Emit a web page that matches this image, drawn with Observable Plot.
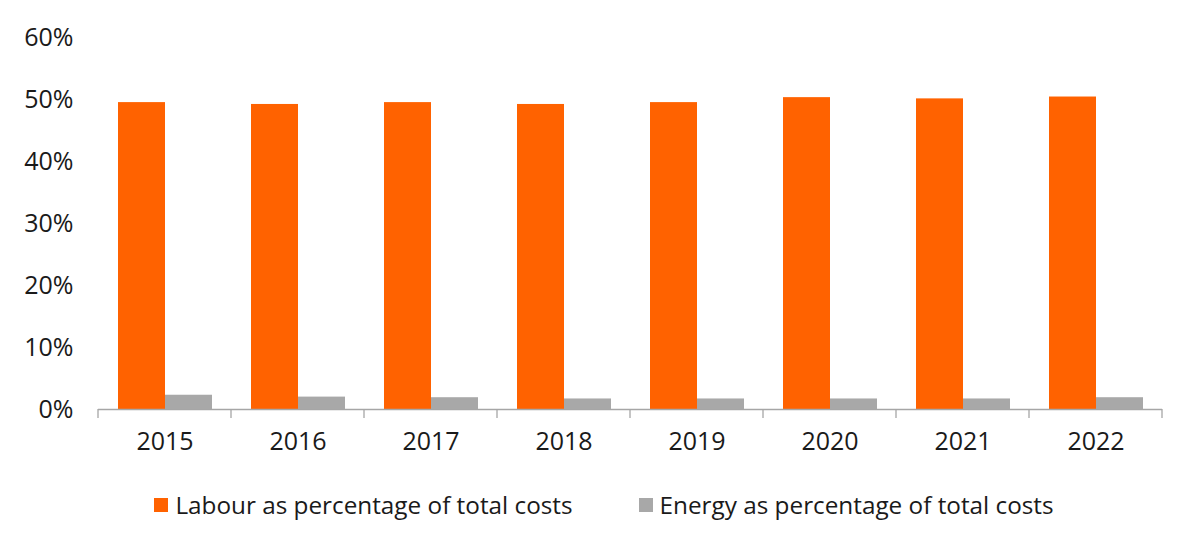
<!DOCTYPE html>
<html>
<head>
<meta charset="utf-8">
<script src="https://cdn.jsdelivr.net/npm/d3@7"></script>
<script src="https://cdn.jsdelivr.net/npm/@observablehq/plot@0.6"></script>
<style>
  body { margin: 0; background: #fff; font-family: "Open Sans", sans-serif; }
  #chart svg { display: block; }
  .legend { display: flex; justify-content: center; gap: 66px; margin-top: 20px; margin-left: 8px;
            font-family: "Open Sans", sans-serif; font-size: 24.3px; color: #1a1a1a; line-height: 30px; }
  .legend .item { display: flex; align-items: center; }
  .legend .sw { width: 14px; height: 14px; margin-right: 7px; }
</style>
</head>
<body>
<div id="chart"></div>
<script>
const years = ["2015", "2016", "2017", "2018", "2019", "2020", "2021", "2022"];
const labour = [49.5, 49.2, 49.5, 49.2, 49.5, 50.3, 50.1, 50.4];
const energy = [2.3, 2.0, 1.9, 1.7, 1.7, 1.7, 1.7, 1.9];
const seriesNames = ["Labour as percentage of total costs", "Energy as percentage of total costs"];
const seriesColors = ["#FF6200", "#A8A8A8"];
const yTicks = [0, 0.1, 0.2, 0.3, 0.4, 0.5, 0.6];

const rows = [];
years.forEach((y, i) => {
  rows.push({year: y, series: seriesNames[0], value: labour[i] / 100});
  rows.push({year: y, series: seriesNames[1], value: energy[i] / 100});
});

const plot = Plot.plot({
  width: 1200,
  height: 470,
  marginTop: 37,
  marginBottom: 61,
  marginLeft: 96,
  marginRight: 37,
  style: {fontFamily: "'Open Sans', sans-serif", fontSize: "25px", color: "#1a1a1a"},
  fx: {domain: years, padding: 0},
  x: {domain: seriesNames, paddingInner: 0, paddingOuter: 0.4, axis: null},
  y: {domain: [0, 0.6]},
  color: {domain: seriesNames, range: seriesColors},
  marks: [
    Plot.barY(rows, {fx: "year", x: "series", y: "value", fill: "series"}),
    Plot.ruleY([0], {stroke: "#A6A6A6", strokeWidth: 1.3}),
    Plot.axisY({ticks: yTicks, tickFormat: d3.format(".0%"), tickSize: 0, tickPadding: 25, label: null, fill: "#1a1a1a"}),
    Plot.axisFx({anchor: "bottom", tickSize: 0, tickPadding: 23, label: null, fill: "#1a1a1a"})
  ]
});

// category boundary ticks along the baseline, placed from the library's own scales
const fx = plot.scale("fx");
const ys = plot.scale("y");
const y0 = ys.apply(0);
const edges = years.map(v => fx.apply(v)).concat([fx.apply(years[years.length - 1]) + fx.bandwidth]);
const svg = d3.select(plot);
svg.append("g").selectAll("line").data(edges).join("line")
  .attr("x1", d => d).attr("x2", d => d)
  .attr("y1", y0).attr("y2", y0 + 9)
  .attr("stroke", "#A6A6A6").attr("stroke-width", 1.3);

document.getElementById("chart").appendChild(plot);

const legend = document.createElement("div");
legend.className = "legend";
seriesNames.forEach((name, i) => {
  const item = document.createElement("div");
  item.className = "item";
  const sw = document.createElement("span");
  sw.className = "sw";
  sw.style.background = seriesColors[i];
  const label = document.createElement("span");
  label.textContent = name;
  item.appendChild(sw);
  item.appendChild(label);
  legend.appendChild(item);
});
document.body.appendChild(legend);
</script>
</body>
</html>
